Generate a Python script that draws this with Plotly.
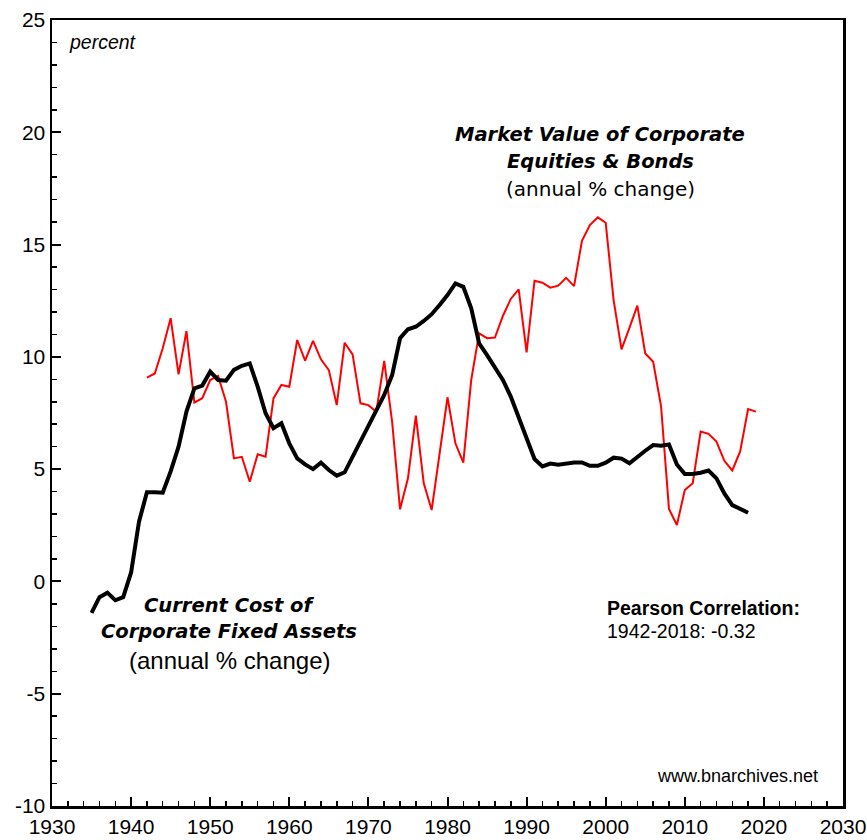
import plotly.graph_objects as go

fixed_years = list(range(1935, 2019))
fixed_assets = [
    -1.4, -0.7, -0.5, -0.84, -0.7, 0.4, 2.66, 3.97, 3.97, 3.95,
    4.9, 6.0, 7.56, 8.6, 8.72, 9.34, 8.97, 8.94, 9.42, 9.6,
    9.71, 8.67, 7.49, 6.82, 7.04, 6.15, 5.48, 5.21, 5.0, 5.29,
    4.96, 4.71, 4.86, 5.55, 6.22, 6.97, 7.63, 8.3, 9.19, 10.83,
    11.23, 11.34, 11.6, 11.9, 12.31, 12.75, 13.27, 13.12, 12.16, 10.6,
    10.08, 9.56, 8.97, 8.23, 7.34, 6.45, 5.45, 5.12, 5.25, 5.2,
    5.25, 5.3, 5.3, 5.15, 5.15, 5.29, 5.51, 5.47, 5.26, 5.55,
    5.82, 6.07, 6.04, 6.1, 5.21, 4.78, 4.78, 4.84, 4.94, 4.59,
    3.92, 3.4, 3.25, 3.06,
]

market_years = list(range(1942, 2020))
market_value = [
    9.07, 9.26, 10.38, 11.72, 9.22, 11.15, 7.96, 8.16, 8.97, 9.15,
    8.0, 5.48, 5.55, 4.44, 5.66, 5.55, 8.15, 8.75, 8.67, 10.75,
    9.83, 10.71, 9.89, 9.41, 7.85, 10.63, 10.11, 7.93, 7.85, 7.56,
    9.82, 7.11, 3.21, 4.59, 7.38, 4.37, 3.18, 5.62, 8.2, 6.15,
    5.29, 8.97, 11.05, 10.83, 10.86, 11.82, 12.58, 13.01, 10.2, 13.39,
    13.3, 13.08, 13.17, 13.52, 13.15, 15.17, 15.87, 16.21, 15.97, 12.53,
    10.33, 11.29, 12.28, 10.15, 9.78, 7.8, 3.23, 2.51, 4.07, 4.37,
    6.67, 6.57, 6.23, 5.37, 4.94, 5.79, 7.68, 7.56,
]

x_ticks = list(range(1930, 2031, 10))
x_tick_labels = [str(v) for v in x_ticks]
y_ticks = list(range(-10, 26, 5))
y_tick_labels = [str(v) for v in y_ticks]

ARIAL = "Liberation Sans, Arial, sans-serif"
VERDANA = "DejaVu Sans, Verdana, sans-serif"

fig = go.Figure()
fig.add_trace(go.Scatter(x=market_years, y=market_value, mode="lines",
                         line=dict(color="#ff0000", width=2), showlegend=False,
                         hoverinfo="skip"))
fig.add_trace(go.Scatter(x=fixed_years, y=fixed_assets, mode="lines",
                         line=dict(color="#000000", width=4), showlegend=False,
                         hoverinfo="skip"))

axis_common = dict(ticks="inside", ticklen=9, tickwidth=2, tickcolor="black",
                   showgrid=False, zeroline=False, showline=True, linewidth=2.5,
                   linecolor="black", mirror=True, automargin=False,
                   tickfont=dict(size=21, family=ARIAL, color="black"))

fig.update_layout(
    width=867, height=840,
    margin=dict(l=52, r=24, t=20, b=34),
    paper_bgcolor="white", plot_bgcolor="white",
    font=dict(family=ARIAL, color="black"),
    hovermode=False,
    xaxis=dict(range=[1930, 2030], tickvals=x_ticks, ticktext=x_tick_labels,
               minor=dict(dtick=2, ticks="inside", ticklen=5, tickwidth=1.5, tickcolor="black"),
               **axis_common),
    yaxis=dict(range=[-10, 25], tickvals=y_ticks, ticktext=y_tick_labels,
               minor=dict(dtick=1, ticks="inside", ticklen=5, tickwidth=1.5, tickcolor="black"),
               **axis_common),
)

annots = [
    dict(x=1931.9, y=24.0, text="<i>percent</i>", xanchor="left", size=19.5, fam=ARIAL),
    dict(x=1999.3, y=19.92, text="<b><i>Market Value of Corporate</i></b>", xanchor="center", size=19.5, fam=VERDANA),
    dict(x=1999.3, y=18.72, text="<b><i>Equities &amp; Bonds</i></b>", xanchor="center", size=19.5, fam=VERDANA),
    dict(x=1999.3, y=17.47, text="(annual % change)", xanchor="center", size=20, fam=VERDANA),
    dict(x=1952.4, y=-1.09, text="<b><i>Current Cost of</i></b>", xanchor="center", size=19.5, fam=VERDANA),
    dict(x=1952.4, y=-2.25, text="<b><i>Corporate Fixed Assets</i></b>", xanchor="center", size=19.5, fam=VERDANA),
    dict(x=1952.4, y=-3.54, text="(annual % change)", xanchor="center", size=24, fam=ARIAL),
    dict(x=1999.9, y=-1.18, text="<b>Pearson Correlation:</b>", xanchor="left", size=19.5, fam=ARIAL),
    dict(x=1999.9, y=-2.2, text="1942-2018: -0.32", xanchor="left", size=19.5, fam=ARIAL),
    dict(x=2027.1, y=-8.66, text="www.bnarchives.net", xanchor="right", size=18, fam=ARIAL),
]
for a in annots:
    fig.add_annotation(x=a["x"], y=a["y"], xref="x", yref="y", text=a["text"],
                       showarrow=False, xanchor=a["xanchor"], yanchor="middle",
                       font=dict(size=a["size"], family=a["fam"], color="black"))

# remove the browser's default 8px page margin so the figure fills the window exactly
fig.write_html("out.html",
               config={"displayModeBar": False, "staticPlot": True},
               post_script="document.body.style.margin='0';document.body.style.overflow='hidden';")
